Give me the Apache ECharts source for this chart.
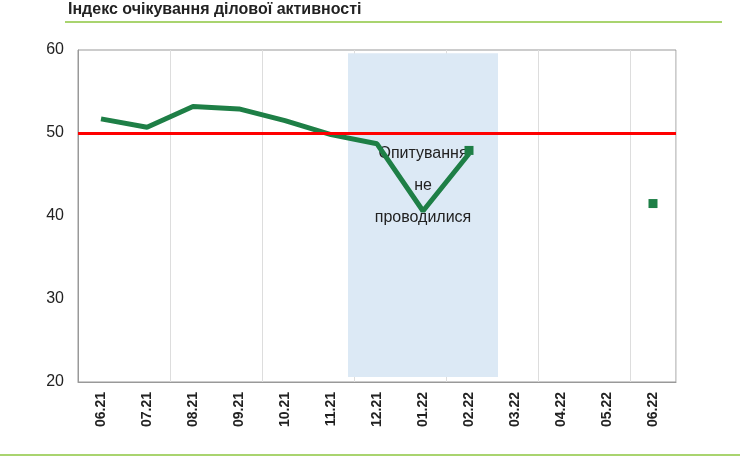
<!DOCTYPE html><html><head><meta charset="utf-8">
<script src="https://cdn.jsdelivr.net/npm/echarts@6/dist/echarts.min.js"></script>
<style>body{margin:0}#c{width:740px;height:457px}</style></head><body><div id="c"></div>
<script>
const categories=['06.21','07.21','08.21','09.21','10.21','11.21','12.21','01.22','02.22','03.22','04.22','05.22','06.22'];
const lineValues=[51.7,50.7,53.2,52.9,51.5,49.8,48.7,40.6,47.5,null,null,null,null];
const markerValues=[null,null,null,null,null,null,null,null,47.9,null,null,null,41.5];
const noSurvey=['03.22','04.22','05.22'];
const threshold=50;
const yTicks=[20,30,40,50,60];
const c=echarts.init(document.getElementById('c'));
c.setOption({
 animation:false,
 graphic:[
  {type:'text',left:68,top:2,style:{text:'Індекс очікування ділової активності',font:'bold 16px Arial',fill:'#222'}},
  {type:'line',shape:{x1:65,y1:22,x2:722,y2:22},style:{stroke:'#8cc63f',lineWidth:1.5}},
  {type:'line',shape:{x1:0,y1:455,x2:740,y2:455},style:{stroke:'#8cc63f',lineWidth:1.5}}
 ],
 grid:{left:78,right:64,top:50,bottom:75,show:true,borderColor:'#999',borderWidth:1},
 xAxis:{type:'category',data:categories,boundaryGap:true,
  axisLine:{lineStyle:{color:'#999'}},axisTick:{show:false},
  axisLabel:{rotate:90,fontWeight:'bold',fontSize:14,color:'#222',fontFamily:'Arial',margin:10},
  splitLine:{show:true,interval:1,lineStyle:{color:'#ddd'}}},
 yAxis:{type:'value',min:yTicks[0],max:yTicks[yTicks.length-1],interval:10,
  axisLabel:{fontSize:16,color:'#222',fontFamily:'Arial',margin:14},
  axisLine:{show:true,lineStyle:{color:'#999'}},splitLine:{show:false}},
 series:[
  {type:'custom',z:1,silent:true,data:[[noSurvey[0],noSurvey[noSurvey.length-1]]],
   renderItem:function(params,api){
     const a=api.coord([api.value(0),59.6]);const b=api.coord([api.value(1),20.6]);
     const w=api.size([1,0])[0];
     const x1=a[0]-w/2+6,x2=b[0]+w/2-6;
     return {type:'group',children:[
      {type:'rect',shape:{x:x1,y:a[1],width:x2-x1,height:b[1]-a[1]},style:{fill:'#dce9f5'}},
      {type:'text',style:{text:'Опитування\nне\nпроводилися',x:(x1+x2)/2,y:(a[1]+b[1])/2-30,align:'center',verticalAlign:'middle',font:'16px Arial',lineHeight:32,fill:'#222'}}
     ]};
   }},
  {type:'line',data:lineValues,symbol:'none',lineStyle:{color:'#1e7f46',width:5},z:3,
   markLine:{silent:true,symbol:'none',label:{show:false},lineStyle:{color:'#ff0000',width:3,type:'solid'},data:[{yAxis:threshold}]}},
  {type:'scatter',data:markerValues,symbol:'rect',symbolSize:9,itemStyle:{color:'#1e7f46',opacity:1},z:4}
 ]
});
</script></body></html>
